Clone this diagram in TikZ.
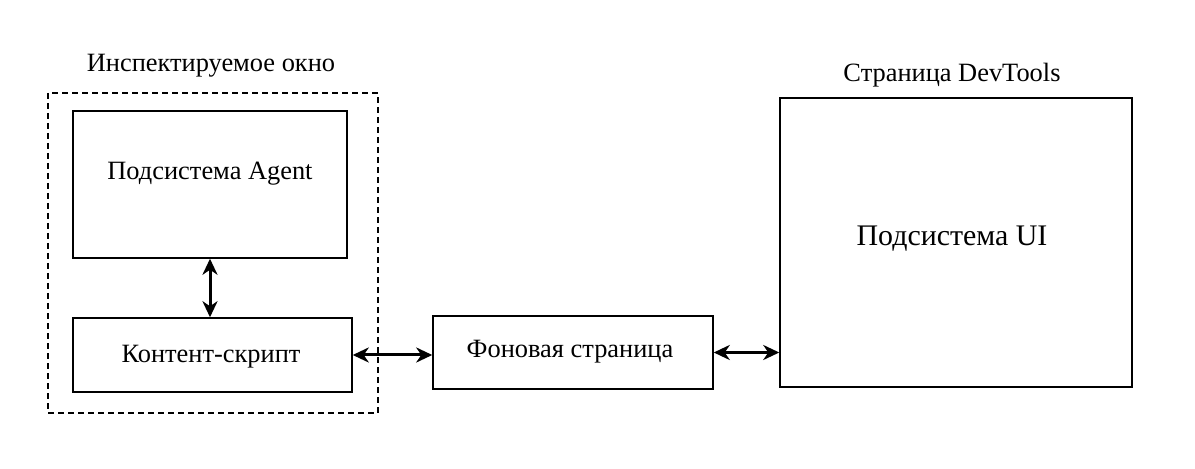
\documentclass[tikz,border=0pt]{standalone}
\usepackage{fontspec}
\setmainfont{Liberation Serif}
\usetikzlibrary{arrows.meta}
\begin{document}
\begin{tikzpicture}[x=1bp,y=-1bp,
  box/.style={draw, line width=1.5bp, rectangle, inner sep=0pt},
  frame/.style={draw, line width=1.5bp, dash pattern=on 6bp off 4bp},
  txt/.style={inner sep=0pt, anchor=base, font=\fontsize{#1}{#1}\selectfont},
  link/.style={line width=3bp, {Stealth[length=16bp,width=15bp,inset=5bp]}-{Stealth[length=16bp,width=15bp,inset=5bp]}}]
  \useasboundingbox (0,0) rectangle (1195,469);

  % inspected window (dashed group)
  \draw[frame] (48,93) rectangle (378,413);
  \node[txt=26.5] (winlbl) at (211,72) {Инспектируемое окно};

  \node[box, minimum width=274bp, minimum height=147bp] (agent) at (210,184.5) {};
  \node[txt=26.5] (agentlbl) at (210,180) {Подсистема Agent};

  \node[box, minimum width=279bp, minimum height=74bp] (content) at (212.5,355) {};
  \node[txt=26.5] (contentlbl) at (211,362.5) {Контент-скрипт};

  % background page
  \node[box, minimum width=280bp, minimum height=73bp] (bg) at (573,352.5) {};
  \node[txt=26.5] (bglbl) at (570,358) {Фоновая страница};

  % DevTools page
  \node[box, minimum width=352bp, minimum height=289bp] (ui) at (956,242.5) {};
  \node[txt=30] (uilbl) at (952,245.5) {Подсистема UI};
  \node[txt=26.5] (devlbl) at (952,81.5) {Страница DevTools};

  % connectors
  \draw[link] (agent.south) -- (agent.south |- content.north);
  \draw[link] (content.east) -- (content.east -| bg.west);
  \draw[link] (bg.east) -- (bg.east -| ui.west);
\end{tikzpicture}
\end{document}
